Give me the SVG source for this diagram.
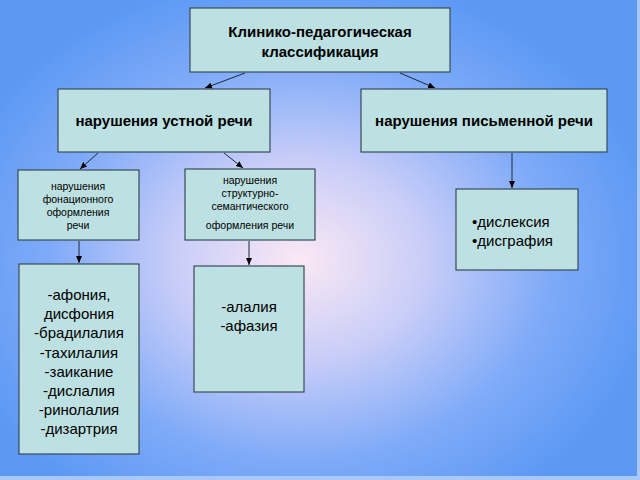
<svg xmlns="http://www.w3.org/2000/svg" width="640" height="480" viewBox="0 0 640 480">
<defs>
<radialGradient id="bg" cx="300" cy="260" r="360" gradientUnits="userSpaceOnUse" gradientTransform="translate(300 260) scale(1 0.8) translate(-300 -260)">
<stop offset="0" stop-color="#fbe8f4"/>
<stop offset="0.35" stop-color="#c8cdf8"/>
<stop offset="0.7" stop-color="#7eaaf8"/>
<stop offset="1" stop-color="#5c99f4"/>
</radialGradient>
<marker id="ah" markerWidth="8" markerHeight="8" refX="7" refY="4" orient="auto" markerUnits="userSpaceOnUse"><path d="M0,1 L7,4 L0,7 z" fill="#000"/></marker>
<style>
.b{fill:#bde1e2;stroke:#3a4a5a;stroke-width:1.2}
.t{font-family:"Liberation Sans",Arial,sans-serif;fill:#000;text-anchor:middle}
.s{text-anchor:start}
.c line{stroke:#1a2a3a;stroke-width:1;marker-end:url(#ah)}
</style>
</defs>
<rect width="640" height="480" fill="#a9c8f7"/>
<rect x="0" y="0" width="637" height="476" fill="url(#bg)"/>
<g id="n1"><rect class="b" x="190" y="8" width="260" height="64"/><text class="t" font-size="15" font-weight="bold"><tspan x="320" y="37">Клинико-педагогическая</tspan><tspan x="320" y="57">классификация</tspan></text></g>
<g id="n2"><rect class="b" x="58" y="89" width="212" height="63"/><text class="t" font-size="15" font-weight="bold" x="164" y="126">нарушения устной речи</text></g>
<g id="n3"><rect class="b" x="361" y="89" width="246" height="63"/><text class="t" font-size="15" font-weight="bold" x="484" y="126">нарушения письменной речи</text></g>
<g id="n4"><rect class="b" x="18" y="170" width="121" height="70"/><text class="t" font-size="10.5"><tspan x="78" y="190">нарушения</tspan><tspan x="78" y="203">фонационного</tspan><tspan x="78" y="216">оформления</tspan><tspan x="78" y="229">речи</tspan></text></g>
<g id="n5"><rect class="b" x="185" y="169" width="130" height="71"/><text class="t" font-size="10.5"><tspan x="250" y="184">нарушения</tspan><tspan x="250" y="197">структурно-</tspan><tspan x="250" y="210">семантического</tspan><tspan x="250" y="229">оформления речи</tspan></text></g>
<g id="n6"><rect class="b" x="456" y="189" width="122" height="81"/><text class="t s" font-size="15"><tspan x="472" y="227">•дислексия</tspan><tspan x="472" y="246">•дисграфия</tspan></text></g>
<g id="n7"><rect class="b" x="19" y="264" width="120" height="190"/><text class="t" font-size="15"><tspan x="79" y="300">-афония,</tspan><tspan x="79" y="319">дисфония</tspan><tspan x="79" y="338">-брадилалия</tspan><tspan x="79" y="358">-тахилалия</tspan><tspan x="79" y="377">-заикание</tspan><tspan x="79" y="396">-дислалия</tspan><tspan x="79" y="415">-ринолалия</tspan><tspan x="79" y="434">-дизартрия</tspan></text></g>
<g id="n8"><rect class="b" x="194" y="266" width="110" height="126"/><text class="t" font-size="15"><tspan x="249" y="312">-алалия</tspan><tspan x="249" y="331">-афазия</tspan></text></g>
<g class="c" id="connectors">
<line x1="245" y1="73" x2="205" y2="88"/>
<line x1="400" y1="73" x2="435" y2="88"/>
<line x1="98" y1="153" x2="80" y2="169"/>
<line x1="224" y1="153" x2="243" y2="168"/>
<line x1="512" y1="153" x2="512" y2="188"/>
<line x1="79" y1="241" x2="79" y2="263"/>
<line x1="249" y1="241" x2="249" y2="265"/>
</g>
</svg>
